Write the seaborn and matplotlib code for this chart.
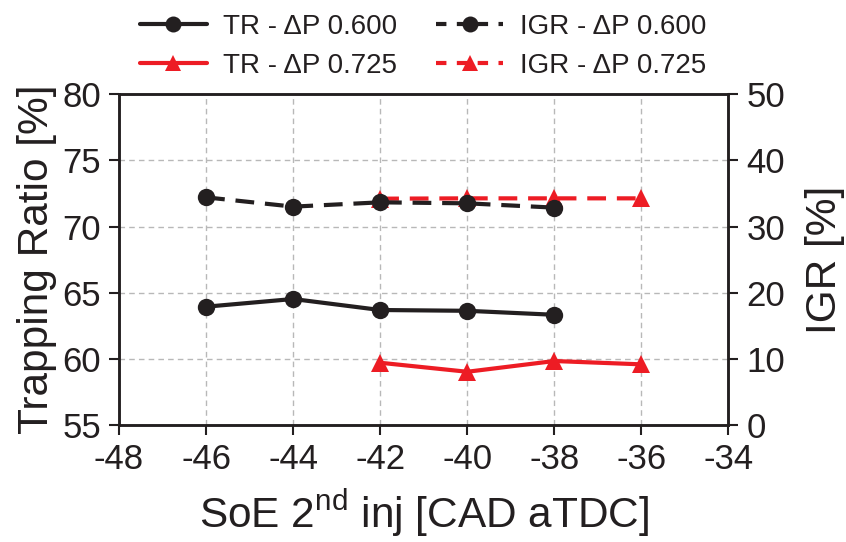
import matplotlib
matplotlib.use("Agg")
import matplotlib.pyplot as plt
import seaborn as sns
import pandas as pd
from matplotlib.lines import Line2D

sns.set_theme(style="white")
plt.rcParams['font.family'] = ['Liberation Sans', 'DejaVu Sans']
plt.rcParams['mathtext.default'] = 'regular'

# Data
soe_600 = [-46, -44, -42, -40, -38]
tr_600 = [63.95, 64.53, 63.70, 63.64, 63.34]
igr_600 = [34.4, 33.0, 33.65, 33.5, 32.85]

soe_725 = [-42, -40, -38, -36]
tr_725 = [59.72, 59.04, 59.85, 59.60]
igr_725 = [34.2, 34.25, 34.25, 34.25]

x_ticks = [-48, -46, -44, -42, -40, -38, -36, -34]
left_ticks = [55, 60, 65, 70, 75, 80]
right_ticks = [0, 10, 20, 30, 40, 50]

BLACK = '#231f20'
RED = '#ed1c24'

fig = plt.figure(figsize=(8.46, 5.42), dpi=100)
ax = fig.add_axes([0.1407, 0.2153, 0.861 - 0.1407, 0.8266 - 0.2153])
ax2 = ax.twinx()

lw = 3.0
ms = 12.5

df600 = pd.DataFrame({'x': soe_600, 'tr': tr_600, 'igr': igr_600})
df725 = pd.DataFrame({'x': soe_725, 'tr': tr_725, 'igr': igr_725})

sns.lineplot(data=df600, x='x', y='tr', ax=ax, color=BLACK, lw=lw, marker='o',
             markersize=ms, markeredgewidth=0, zorder=5)
sns.lineplot(data=df725, x='x', y='tr', ax=ax, color=RED, lw=lw, marker='^',
             markersize=ms, markeredgewidth=0, zorder=5)
sns.lineplot(data=df725, x='x', y='igr', ax=ax2, color=RED, lw=lw, marker='^',
             markersize=ms, markeredgewidth=0, zorder=4)
sns.lineplot(data=df600, x='x', y='igr', ax=ax2, color=BLACK, lw=lw, marker='o',
             markersize=ms, markeredgewidth=0, zorder=5)
for line in ax2.get_lines():
    line.set_linestyle((0, (4.5, 2.6)))

ax.set_xlim(-48, -34)
ax.set_ylim(55, 80)
ax2.set_ylim(0, 50)
ax.set_xticks(x_ticks)
ax.set_xticklabels([str(t) for t in x_ticks])
ax.set_yticks(left_ticks)
ax2.set_yticks(right_ticks)

ax.grid(True, color='#b8b8b8', linestyle=(0, (4, 3)), linewidth=1.0)
ax.set_axisbelow(True)
ax2.grid(False)

fs_tick = 25
fs_label = 30.5
ax.tick_params(axis='both', labelsize=fs_tick, direction='out', length=7, width=1.5,
               colors=BLACK, pad=6, left=True, bottom=True)
ax2.tick_params(axis='y', labelsize=fs_tick, direction='out', length=7, width=1.5,
                colors=BLACK, pad=6, right=True)
for a in (ax, ax2):
    for s in a.spines.values():
        s.set_linewidth(1.8)
        s.set_color(BLACK)

ax.set_xlabel('SoE 2$^{nd}$ inj [CAD aTDC]', fontsize=fs_label, color=BLACK, labelpad=8)
ax.set_ylabel('Trapping Ratio [%]', fontsize=fs_label, color=BLACK, labelpad=4)
ax2.set_ylabel('IGR [%]', fontsize=fs_label, color=BLACK, labelpad=14)

handles = [
    Line2D([], [], color=BLACK, lw=lw, marker='o', markersize=ms - 1, markeredgewidth=0),
    Line2D([], [], color=RED, lw=lw, marker='^', markersize=ms - 1, markeredgewidth=0),
    Line2D([], [], color=BLACK, lw=lw, ls=(0, (2.5, 2.5)), marker='o', markersize=ms - 1, markeredgewidth=0),
    Line2D([], [], color=RED, lw=lw, ls=(0, (2.5, 2.5)), marker='^', markersize=ms - 1, markeredgewidth=0),
]
labels = ['TR - ΔP 0.600', 'TR - ΔP 0.725', 'IGR - ΔP 0.600', 'IGR - ΔP 0.725']
leg = fig.legend(handles, labels, ncol=2, loc='upper center', bbox_to_anchor=(0.5, 1.02),
                 frameon=False, fontsize=20, handlelength=2.4, columnspacing=1.4,
                 labelspacing=0.45, handletextpad=0.6)
for t in leg.get_texts():
    t.set_color(BLACK)

fig.savefig('out.png', dpi=100)
